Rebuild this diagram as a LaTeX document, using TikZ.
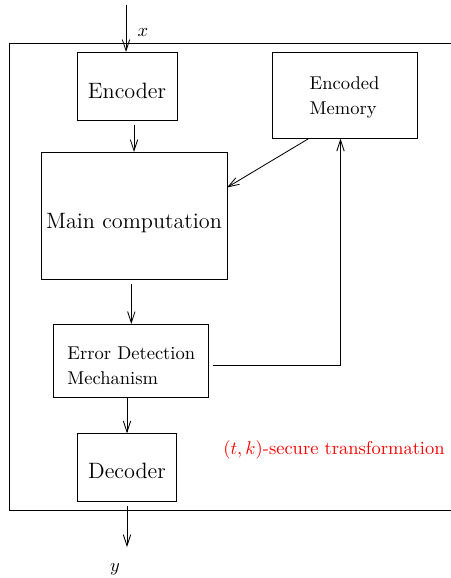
\documentclass[tikz,border=0pt]{standalone}
\usetikzlibrary{arrows.meta,calc}
\newcommand\pxu{0.5405pt}
\begin{document}
\begin{tikzpicture}[x=\pxu,y=-\pxu,
  box/.style={draw,inner sep=0pt,outer sep=0pt},
  two/.style={align=left,font=\fontsize{10}{13.5}\selectfont},
  big/.style={font=\large},
  arr/.style={-{Straight Barb[length=6pt,width=4pt]}},
  line width=0.45pt]
\useasboundingbox (0,0) rectangle (451,578);
\draw (451,43) -- (9,43) -- (9,510) -- (451,510);
% boxes
\node[box,minimum width={100*\pxu},minimum height={68*\pxu}] (enc) at (127,86) {};
\node[box,minimum width={186*\pxu},minimum height={127*\pxu}] (main) at (134,215.5) {};
\node[box,minimum width={145*\pxu},minimum height={86*\pxu}] (em) at (344.5,95.7) {};
\node[box,minimum width={155*\pxu},minimum height={73*\pxu}] (err) at (131.3,360.5) {};
\node[box,minimum width={99.4*\pxu},minimum height={68*\pxu}] (dec) at (127,467.3) {};
% texts
\node[big] (enct) at (127,90.5) {Encoder};
\node[big] (maint) at (134,223.5) {Main computation};
\node[two] (emt) at (344.5,97) {Encoded\\Memory};
\node[two] (errt) at (131.3,365.5) {Error Detection\\Mechanism};
\node[big] (dect) at (127,471) {Decoder};
\coordinate (xin) at (126,5);
\coordinate (yout) at (127,547);
\node (xl) at (143,33) {$x$};
\node (yl) at (115,569) {$y$};
\node[red] (lab) at (334,450) {$(t,k)$-secure transformation};
% connectors
\draw[arr] (xin) -- (enc.north -| xin);
\draw[arr,shorten <=2.7pt] (main.north |- enc.south) -- (main.north);
\draw[arr,shorten <=2.7pt] (err.north |- main.south) -- (err.north);
\draw[arr] ($(em.south)+(-36,0)$) -- ($(main.east)+(0,-28)$);
\draw[arr] ($(err.east)+(4,4.5)$) -| ($(em.south)+(-4,0)$);
\draw[arr] (dec.north |- err.south) -- (dec.north);
\draw[arr,shorten <=2.7pt] (dec.south) -- (yout);
\end{tikzpicture}
\end{document}
